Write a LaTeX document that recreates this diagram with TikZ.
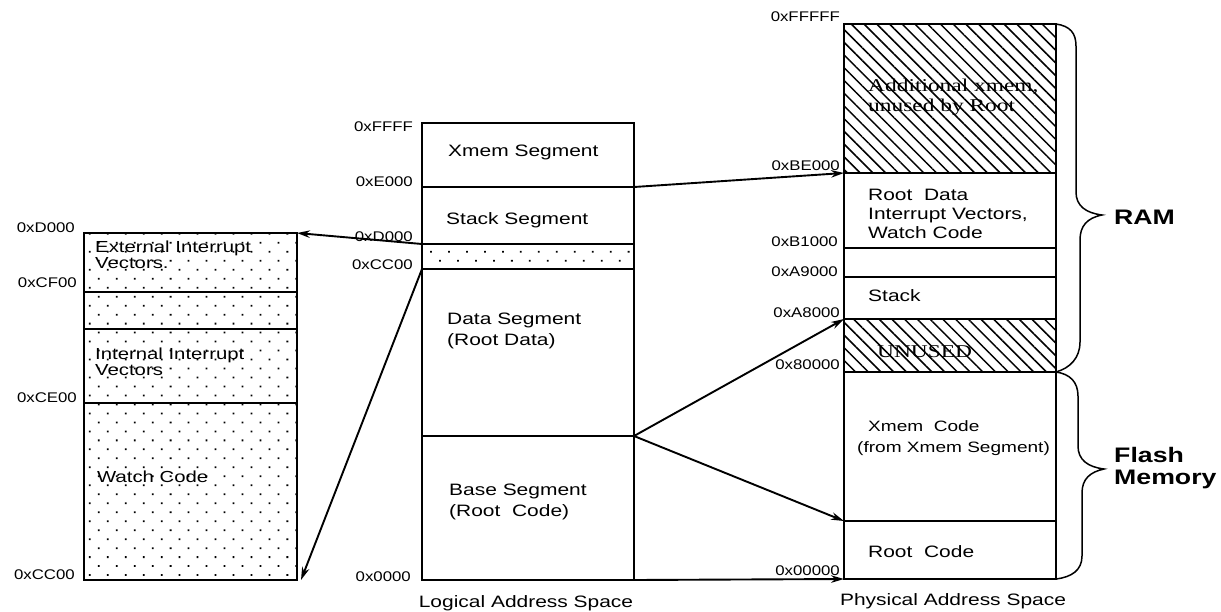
\documentclass[tikz,border=0pt]{standalone}
\usepackage{fontspec}
\setmainfont{Liberation Sans}[FakeStretch=1.27]
\newfontfamily\hexface{Liberation Sans}[FakeStretch=1.2]
\newfontfamily\serifface{Liberation Serif}[FakeStretch=1.3]
\usetikzlibrary{patterns.meta,fit,arrows.meta}

\begin{document}
\begin{tikzpicture}[x=1pt,y=-1pt,
  seg/.style={draw, line width=1.8pt, inner sep=0pt, outer sep=0pt},
  dotfill/.style={pattern={Dots[distance=12.7pt,angle=45,radius=1.25pt]}},
  hatchfill/.style={pattern={Lines[angle=-45,distance=9pt,line width=1.5pt]}},
  hexl/.style={font=\hexface\fontsize{14}{14}\selectfont, anchor=east, inner sep=0pt},
  txt/.style={font=\fontsize{16.5}{21}\selectfont, anchor=west, align=left, inner sep=0pt},
  smalltxt/.style={font=\fontsize{16}{16}\selectfont, anchor=west, align=left, inner sep=0pt},
  serif/.style={font=\serifface\fontsize{18}{20}\selectfont, anchor=west, align=left, inner sep=0pt},
  caption/.style={font=\fontsize{16.5}{16}\selectfont, inner sep=0pt},
  bold/.style={font=\bfseries\fontsize{21}{22}\selectfont, anchor=west, align=left, inner sep=0pt},
  arr/.style={line width=1.9pt, -{Stealth[length=13pt,width=7.5pt]}},
  brace/.style={line width=1.5pt},
]
\useasboundingbox (0,0) rectangle (1221,611);

% ---------- interrupt / watch code detail ----------
\node[seg, dotfill, fit={(84,233)(297,292)}] (lext) {};
\node[seg, dotfill, fit={(84,292)(297,329)}] (lgap) {};
\node[seg, dotfill, fit={(84,329)(297,403)}] (lint) {};
\node[seg, dotfill, fit={(84,403)(297,580)}] (lwatch) {};

\node[smalltxt] (t1) at (95,255) {External Interrupt\\Vectors.};
\node[smalltxt] (t2) at (95,362) {Internal Interrupt\\Vectors};
\node[smalltxt] (t3) at (97,477) {Watch Code};

\node[hexl] (h1) at (75,228) {0xD000};
\node[hexl] (h2) at (77,283) {0xCF00};
\node[hexl] (h3) at (77,398) {0xCE00};
\node[hexl] (h4) at (75,575) {0xCC00};

% ---------- logical address space ----------
\node[seg, fit={(422,123)(634,187)}] (mxmem) {};
\node[seg, fit={(422,187)(634,244)}] (mstack) {};
\node[seg, dotfill, fit={(422,244)(634,269)}] (mdot) {};
\node[seg, fit={(422,269)(634,436)}] (mdata) {};
\node[seg, fit={(422,436)(634,580)}] (mbase) {};

\node[txt] (t4) at (448,152) {Xmem Segment};
\node[txt] (t5) at (446,220) {Stack Segment};
\node[txt] (t6) at (447,331) {Data Segment\\(Root Data)};
\node[txt] (t7) at (449,502) {Base Segment\\(Root\ \ Code)};

\node[hexl] (h5) at (413,127) {0xFFFF};
\node[hexl] (h6) at (413,182) {0xE000};
\node[hexl] (h7) at (413,237) {0xD000};
\node[hexl] (h8) at (413,265) {0xCC00};
\node[hexl] (h9) at (411,577) {0x0000};

\node[caption] (cap1) at (526,603) {Logical Address Space};

% ---------- physical address space ----------
\node[seg, hatchfill, fit={(844,24)(1056,173)}] (radd) {};
\node[seg, fit={(844,173)(1056,248)}] (rdata) {};
\node[seg, fit={(844,248)(1056,277)}] (rgap) {};
\node[seg, fit={(844,277)(1056,319)}] (rstack) {};
\node[seg, hatchfill, fit={(844,319)(1056,372)}] (runused) {};
\node[seg, fit={(844,372)(1056,521)}] (rcode) {};
\node[seg, fit={(844,521)(1056,579)}] (rroot) {};

\node[serif] (t8) at (868,97) {Additional xmem,\\unused by Root};
\node[txt, font=\fontsize{16.5}{19}\selectfont] (t9) at (868,214) {Root\ \ Data\\Interrupt Vectors,\\Watch Code};
\node[txt] (t10) at (868,296) {Stack};
\node[serif] (t11) at (877,352) {UNUSED};
\node[txt, font=\fontsize{15}{21}\selectfont] (t12) at (857,438) {\hspace*{11pt}Xmem\ \ Code\\(from Xmem Segment)};
\node[txt] (t13) at (868,552) {Root\ \ Code};

\node[hexl] (h10) at (840,17) {0xFFFFF};
\node[hexl] (h11) at (840,166) {0xBE000};
\node[hexl] (h12) at (838,242) {0xB1000};
\node[hexl] (h13) at (838,272) {0xA9000};
\node[hexl] (h14) at (840,313) {0xA8000};
\node[hexl] (h15) at (840,365) {0x80000};
\node[hexl] (h16) at (840,571) {0x00000};

\node[caption] (cap2) at (953,601) {Physical Address Space};

% ---------- braces ----------
\draw[brace] (radd.north east) .. controls (1070,26) and (1076,33) .. (1076,46)
  -- (1076,192) .. controls (1076,206) and (1086,213) .. (1102,215)
  .. controls (1087,218) and (1080,226) .. (1080,240)
  -- (1080,342) .. controls (1080,358) and (1070,368) .. (runused.south east);
\draw[brace] (rcode.north east) .. controls (1070,374) and (1078,382) .. (1078,396)
  -- (1078,446) .. controls (1078,460) and (1088,467) .. (1104,469)
  .. controls (1090,472) and (1082,479) .. (1082,493)
  -- (1082,556) .. controls (1082,570) and (1072,577) .. (rroot.south east);

\node[bold] (ram) at (1114,217) {RAM};
\node[bold] (flash) at (1114,468) {Flash\\Memory};

% ---------- mapping arrows ----------
\draw[arr] (mxmem.south east) -- (rdata.north west);
\draw[arr] (mdot.north west) -- (lext.north east);
\draw[arr] (mdot.south west) -- ([xshift=4pt]lwatch.south east);
\draw[arr] (mbase.north east) -- (rstack.south west);
\draw[arr] (mbase.north east) -- (rcode.south west);
\draw[arr] (mbase.south east) -- (rroot.south west);
\end{tikzpicture}
\end{document}
